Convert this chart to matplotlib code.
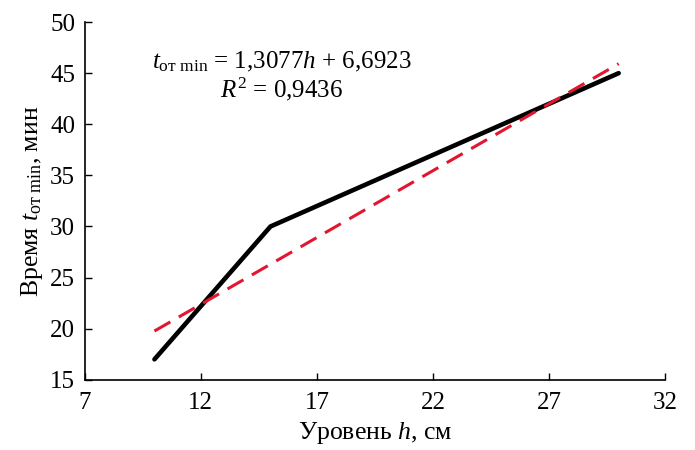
import matplotlib
matplotlib.use("Agg")
import matplotlib.pyplot as plt
import numpy as np

plt.rcParams['font.family'] = ['Liberation Serif', 'DejaVu Serif']
plt.rcParams['mathtext.fontset'] = 'custom'
plt.rcParams['mathtext.rm'] = 'Liberation Serif'
plt.rcParams['mathtext.it'] = 'Liberation Serif:italic'
plt.rcParams['mathtext.bf'] = 'Liberation Serif:bold'

# уровень h, см и время t, мин
h = [10, 15, 30]
t = [17, 30, 45]

# линейный тренд
k, b = np.polyfit(h, t, 1)
r2 = np.corrcoef(h, t)[0, 1] ** 2
h_fit = np.array([h[0], h[-1]])
t_fit = k * h_fit + b

xticks = [7, 12, 17, 22, 27, 32]
yticks = [15, 20, 25, 30, 35, 40, 45, 50]

fig = plt.figure(figsize=(6.95, 4.5), dpi=100)
ax = fig.add_axes([0.122, 0.156, 0.835, 0.795])

ax.plot(h, t, color='black', lw=3.3, solid_capstyle='round', solid_joinstyle='round')
ax.plot(h_fit, t_fit, color='#e3162f', lw=2.2, dashes=(6, 3.2))

ax.set_xlim(7, 32)
ax.set_ylim(15, 50)
ax.set_xticks(xticks)
ax.set_yticks(yticks)
ax.tick_params(direction='in', length=5, width=1, labelsize=18, pad=7)
ax.tick_params(axis='x', pad=9)
for s in ['top', 'right']:
    ax.spines[s].set_visible(False)
for s in ['left', 'bottom']:
    ax.spines[s].set_linewidth(1.2)

ax.set_xlabel(r'Уровень $h$, см', fontsize=18.5, labelpad=4)
ax.set_ylabel(r'Время $t_{\mathrm{от\ min}}$, мин', fontsize=18.5, labelpad=4)

eq = r'$t_{\mathrm{от\ min}}$ = ' + f'{k:.4f}'.replace('.', ',') + r'$h$ + ' + f'{b:.4f}'.replace('.', ',')
ax.text(0.339, 0.89, eq, transform=ax.transAxes, ha='center', va='center', fontsize=18)
ax.text(0.339, 0.812, r'$R^2$ = ' + f'{r2:.4f}'.replace('.', ','), transform=ax.transAxes,
        ha='center', va='center', fontsize=18)

fig.savefig('out.png', dpi=100)
